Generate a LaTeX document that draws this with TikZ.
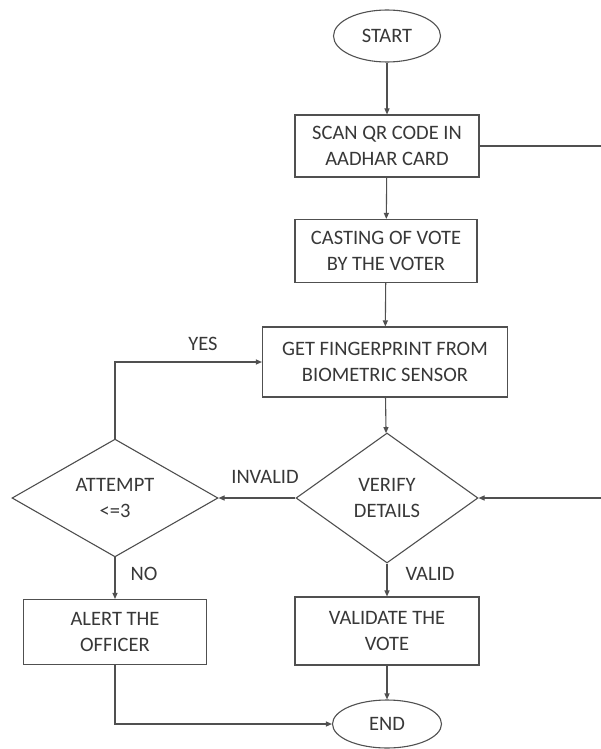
\documentclass[tikz,border=0pt]{standalone}
\usepackage{fontspec}
\setmainfont{Carlito}
\usetikzlibrary{shapes.geometric,arrows.meta}
\definecolor{ln}{HTML}{505050}
\definecolor{tx}{HTML}{383838}
\begin{document}
\begin{tikzpicture}[x=1pt,y=-1pt,
  every node/.style={font=\fontsize{20.5}{26}\selectfont, text=tx, align=center},
  shp/.style={draw=ln, line width=1.1pt, inner sep=0pt},
  box/.style={shp, rectangle},
  term/.style={shp, ellipse},
  dec/.style={shp, diamond},
  lbl/.style={inner sep=0pt},
  conn/.style={draw=ln, line width=1.1pt, -{Triangle[length=6pt,width=5pt]}},
  plain/.style={draw=ln, line width=1.1pt}]
\useasboundingbox (0,0) rectangle (601,749);
\clip (0,0) rectangle (601,749);
\fill[white] (0,0) rectangle (601,749);

\node[term, minimum width=107pt, minimum height=52pt] (start) at (387,36) {START};
\node[box, minimum width=184pt, minimum height=62pt] (scan) at (387,146) {SCAN QR CODE IN\\AADHAR CARD};
\node[box, minimum width=182pt, minimum height=63pt] (cast) at (386,251) {CASTING OF VOTE\\BY THE VOTER};
\node[box, minimum width=245pt, minimum height=70pt] (get) at (385,362) {GET FINGERPRINT FROM\\BIOMETRIC SENSOR};
\node[dec, minimum width=182pt, minimum height=130pt] (verify) at (387,498) {VERIFY\\DETAILS};
\node[dec, minimum width=206pt, minimum height=117pt] (attempt) at (115,498) {ATTEMPT\\<=3};
\node[box, minimum width=183pt, minimum height=65pt] (alert) at (115,632) {ALERT THE\\OFFICER};
\node[box, minimum width=184pt, minimum height=68pt] (validate) at (387,631) {VALIDATE THE\\VOTE};
\node[term, minimum width=109pt, minimum height=48pt] (end) at (387,724) {END};

\node[lbl] (yes) at (203,344) {YES};
\node[lbl] (invalid) at (265,477) {INVALID};
\node[lbl] (no) at (144,574) {NO};
\node[lbl] (valid) at (430,574) {VALID};

\coordinate (edge) at (620,146);

\draw[conn] (start) -- (scan);
\draw[conn] (scan) -- (cast);
\draw[conn] (cast) -- (get);
\draw[conn] (get) -- (verify);
\draw[conn] (verify) -- (validate);
\draw[conn] (validate) -- (end);
\draw[conn] (verify.west) -- (attempt.east);
\draw[conn] (attempt.north) |- (get.west);
\draw[conn] (attempt.south) -- (alert.north);
\draw[conn] (alert.south) |- (end.west);
\draw[conn] (scan.east) -- (edge) |- (verify.east);
\end{tikzpicture}
\end{document}
